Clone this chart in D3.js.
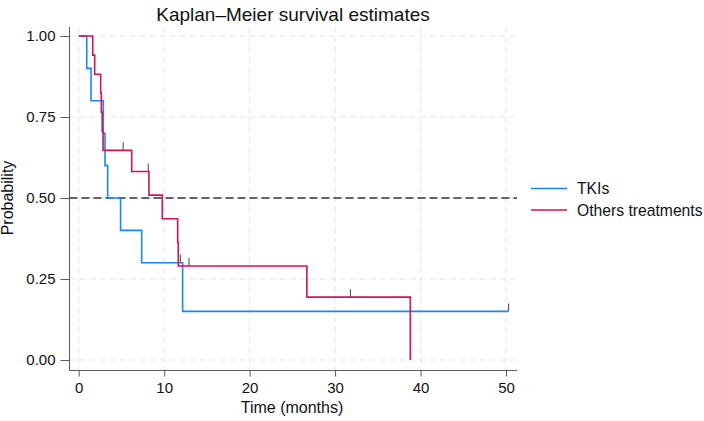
<!DOCTYPE html>
<html>
<head>
<meta charset="utf-8">
<script src="https://cdn.jsdelivr.net/npm/d3@7"></script>
<style>
  body { margin: 0; background: #fff; }
  svg { font-family: "Liberation Sans", Arial, sans-serif; }
</style>
</head>
<body>
<div id="chart"></div>
<script>
// step points: time of each drop and survival after it
const tkiTimes = [0, 0.94, 1.44, 2.88, 3.08, 3.39, 4.9, 7.37, 12.16];
const tkiSurv  = [1, 0.9, 0.8, 0.7, 0.6, 0.5, 0.4, 0.3, 0.15];
const tkiEnd = 50.3;
const tkiCensor = [[11.9, 0.3], [50.3, 0.15]];

const othTimes = [0, 1.64, 1.87, 2.57, 2.65, 2.75, 2.85, 6.2, 8.22, 9.78, 11.58, 11.65, 26.7, 38.8];
const othSurv  = [1, 0.941, 0.882, 0.824, 0.765, 0.706, 0.647, 0.582, 0.509, 0.436, 0.363, 0.29, 0.194, 0];
const othEnd = 38.8;
const othCensor = [[5.2, 0.647], [8.14, 0.582], [12.9, 0.29], [31.8, 0.194]];

const xTicks = [0, 10, 20, 30, 40, 50];
const yTicks = [0, 0.25, 0.5, 0.75, 1];
const seriesNames = ["TKIs", "Others treatments"];
const seriesColors = ["#1a85ff", "#d41159"];

const width = 704, height = 421;
const svg = d3.select("#chart").append("svg")
  .attr("width", width)
  .attr("height", height);

const xScale = d3.scaleLinear().domain([0, 50]).range([78.7, 506]);
const yScale = d3.scaleLinear().domain([0, 1]).range([360, 36]);
const plotLeft = 69.5, plotRight = 517, plotTop = 27, plotBottom = 370.5;

// grid
svg.append("g").selectAll("line")
  .data(xTicks)
  .join("line")
  .attr("x1", d => xScale(d)).attr("x2", d => xScale(d))
  .attr("y1", plotTop).attr("y2", plotBottom)
  .attr("stroke", "#e6e6e6").attr("stroke-dasharray", "6,4");

svg.append("g").selectAll("line")
  .data(yTicks)
  .join("line")
  .attr("x1", plotLeft).attr("x2", plotRight)
  .attr("y1", d => yScale(d)).attr("y2", d => yScale(d))
  .attr("stroke", "#e6e6e6").attr("stroke-dasharray", "6,4");

// reference line at 0.5
svg.append("line")
  .attr("x1", plotLeft).attr("x2", plotRight)
  .attr("y1", yScale(0.5)).attr("y2", yScale(0.5))
  .attr("stroke", "#333").attr("stroke-width", 1.5)
  .attr("stroke-dasharray", "8,4");

// axes
const xAxis = d3.axisBottom(xScale).tickValues(xTicks).tickSize(6).tickPadding(6).tickFormat(d3.format("d"));
const yAxis = d3.axisLeft(yScale).tickValues(yTicks).tickSize(9).tickPadding(5).tickFormat(d3.format(".2f"));

const gx = svg.append("g").attr("transform", `translate(0,${plotBottom})`).call(xAxis);
gx.select(".domain").attr("d", `M${plotLeft},0H${plotRight}`);
const gy = svg.append("g").attr("transform", `translate(${plotLeft},0)`).call(yAxis);
gy.select(".domain").attr("d", `M0,${plotTop}V${plotBottom}`);

[gx, gy].forEach(g => {
  g.selectAll(".domain, line").attr("stroke", "#5a5a5a");
  g.selectAll("text").attr("font-size", 15).attr("fill", "#111")
    .attr("font-family", "Liberation Sans, Arial, sans-serif");
});

// survival curves
function stepLine(times, surv, end) {
  const pts = times.map((t, i) => [t, surv[i]]);
  pts.push([end, surv[surv.length - 1]]);
  return d3.line()
    .x(d => xScale(d[0]))
    .y(d => yScale(d[1]))
    .curve(d3.curveStepAfter)(pts);
}

const curves = [
  { times: tkiTimes, surv: tkiSurv, end: tkiEnd, censor: tkiCensor },
  { times: othTimes, surv: othSurv, end: othEnd, censor: othCensor }
];

curves.forEach((c, i) => {
  svg.append("path")
    .attr("d", stepLine(c.times, c.surv, c.end))
    .attr("fill", "none")
    .attr("stroke", seriesColors[i])
    .attr("stroke-width", 1.6);
});

// censor marks
curves.forEach(c => {
  svg.append("g").selectAll("line")
    .data(c.censor)
    .join("line")
    .attr("x1", d => xScale(d[0])).attr("x2", d => xScale(d[0]))
    .attr("y1", d => yScale(d[1])).attr("y2", d => yScale(d[1]) - 8)
    .attr("stroke", "#555").attr("stroke-width", 1.1);
});

// title and axis labels
svg.append("text")
  .attr("x", 293).attr("y", 21)
  .attr("text-anchor", "middle")
  .attr("font-size", 19).attr("fill", "#111")
  .text("Kaplan–Meier survival estimates");

svg.append("text")
  .attr("x", 292).attr("y", 413)
  .attr("text-anchor", "middle")
  .attr("font-size", 16).attr("fill", "#111")
  .text("Time (months)");

svg.append("text")
  .attr("transform", "translate(13,198) rotate(-90)")
  .attr("text-anchor", "middle")
  .attr("font-size", 16).attr("fill", "#111")
  .text("Probability");

// legend
const legend = svg.append("g").selectAll("g")
  .data(seriesNames)
  .join("g")
  .attr("transform", (d, i) => `translate(531,${188.5 + i * 21.5})`);

legend.append("line")
  .attr("x1", 0).attr("x2", 36)
  .attr("stroke", (d, i) => seriesColors[i]).attr("stroke-width", 1.6);

legend.append("text")
  .attr("x", 46).attr("y", 5.5)
  .attr("font-size", 15.7).attr("fill", "#111")
  .text(d => d);
</script>
</body>
</html>
